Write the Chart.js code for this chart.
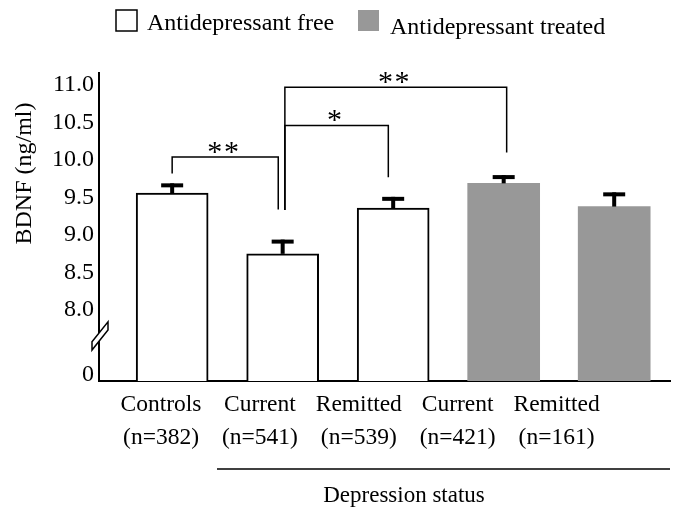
<!DOCTYPE html>
<html><head><meta charset="utf-8">
<script src="https://cdn.jsdelivr.net/npm/chart.js@4.4.1/dist/chart.umd.min.js"></script>
<style>html,body{margin:0;padding:0;background:#fff}canvas{display:block}</style>
</head><body>
<canvas id="c" width="677" height="514"></canvas>
<script>
// ---- data ----
const categories = ['Controls', 'Current', 'Remitted', 'Current', 'Remitted'];
const sampleSizes = ['(n=382)', '(n=541)', '(n=539)', '(n=421)', '(n=161)'];
const treatment = ['free', 'free', 'free', 'treated', 'treated'];
const meanBDNF = [9.56, 8.75, 9.36, 9.69, 9.38];
const semBDNF = [0.13, 0.19, 0.15, 0.11, 0.19];
const yTickValues = [8.0, 8.5, 9.0, 9.5, 10.0, 10.5, 11.0];
const legendLabels = ['Antidepressant free', 'Antidepressant treated'];
const comparisonLabels = ['**', '*', '**'];
const groupLabel = 'Depression status';
const yTitle = 'BDNF (ng/ml)';

// ---- layout / style config ----
const FONT = "'Liberation Serif', 'Times New Roman', serif";
const FREE_FILL = '#ffffff';
const TREATED_FILL = '#989898';
const Y_MIN = 7.055, Y_MAX = 11.161, ZERO_POS = 7.135, BREAK_POS = 7.655;
const brackets = [
  { x1: 0.0,  x2: 0.96,  top: 10.04, y1: 9.82,  y2: 9.34 },
  { x1: 1.02, x2: 1.956, top: 10.46, y1: 9.335, y2: 9.77 },
  { x1: 1.02, x2: 3.027, top: 10.97, y1: 9.335, y2: 10.10 }
];

const decorPlugin = {
  id: 'decor',
  afterDatasetsDraw(chart) {
    const ctx = chart.ctx, xs = chart.scales.x, ys = chart.scales.y;
    const meta = chart.getDatasetMeta(0);
    ctx.save();
    ctx.fillStyle = '#000';
    // error bars
    meta.data.forEach((bar, i) => {
      const yb = ys.getPixelForValue(meanBDNF[i]);
      const yt = ys.getPixelForValue(meanBDNF[i] + semBDNF[i]);
      ctx.fillRect(bar.x - 2, yt, 4, yb - yt);
      ctx.fillRect(bar.x - 11, yt, 22, 4);
    });
    // significance brackets
    ctx.strokeStyle = '#000';
    ctx.lineWidth = 1.5;
    brackets.forEach((b, k) => {
      const xa = xs.getPixelForValue(b.x1), xb = xs.getPixelForValue(b.x2);
      const yt = ys.getPixelForValue(b.top);
      ctx.beginPath();
      ctx.moveTo(xa, ys.getPixelForValue(b.y1));
      ctx.lineTo(xa, yt);
      ctx.lineTo(xb, yt);
      ctx.lineTo(xb, ys.getPixelForValue(b.y2));
      ctx.stroke();
      ctx.font = '30px ' + FONT;
      ctx.textAlign = 'center';
      ctx.textBaseline = 'alphabetic';
      const chars = comparisonLabels[k].split('');
      const mid = (xa + xb) / 2 - 2;
      chars.forEach((c, j) => {
        const off = (j - (chars.length - 1) / 2) * 16.7;
        ctx.fillText(c, mid + off, yt + 3.5);
      });
    });
    ctx.restore();
  },
  afterDraw(chart) {
    const ctx = chart.ctx, ys = chart.scales.y, area = chart.chartArea;
    ctx.save();
    // axis break
    const cx = area.left + 1, cy = ys.getPixelForValue(BREAK_POS);
    ctx.beginPath();
    ctx.moveTo(cx - 8, cy + 5.8);
    ctx.lineTo(cx + 8, cy - 14.2);
    ctx.lineTo(cx + 8, cy - 5.9);
    ctx.lineTo(cx - 8, cy + 14.1);
    ctx.closePath();
    ctx.fillStyle = '#fff';
    ctx.fill();
    ctx.strokeStyle = '#000';
    ctx.lineWidth = 1.5;
    ctx.stroke();
    // y title
    ctx.fillStyle = '#000';
    ctx.font = '24px ' + FONT;
    ctx.translate(25, 173.5);
    ctx.rotate(-Math.PI / 2);
    ctx.textAlign = 'center';
    ctx.textBaseline = 'middle';
    ctx.fillText(yTitle, 0, 0);
    ctx.restore();

    ctx.save();
    // group line + label
    ctx.strokeStyle = '#000';
    ctx.lineWidth = 1.5;
    ctx.beginPath();
    ctx.moveTo(217, 469);
    ctx.lineTo(area.right, 469);
    ctx.stroke();
    ctx.fillStyle = '#000';
    ctx.font = '23px ' + FONT;
    ctx.textAlign = 'center';
    ctx.textBaseline = 'middle';
    ctx.fillText(groupLabel, 404, 496);
    // legend
    ctx.lineWidth = 1.5;
    ctx.fillStyle = FREE_FILL;
    ctx.fillRect(116, 10, 21, 21);
    ctx.strokeRect(116, 10, 21, 21);
    ctx.fillStyle = TREATED_FILL;
    ctx.fillRect(358, 10, 21, 21);
    ctx.fillStyle = '#000';
    ctx.font = '24px ' + FONT;
    ctx.textAlign = 'left';
    ctx.textBaseline = 'alphabetic';
    ctx.fillText(legendLabels[0], 147, 30);
    ctx.fillText(legendLabels[1], 390, 34);
    ctx.restore();
  }
};

new Chart(document.getElementById('c'), {
  type: 'bar',
  data: {
    datasets: [{
      data: meanBDNF.map((v, i) => ({ x: i, y: v })),
      backgroundColor: treatment.map(t => t === 'free' ? FREE_FILL : TREATED_FILL),
      borderColor: treatment.map(t => t === 'free' ? '#000' : TREATED_FILL),
      borderWidth: treatment.map(t => t === 'free' ? 2 : 0),
      barThickness: 72,
      base: Y_MIN
    }]
  },
  options: {
    responsive: false,
    animation: false,
    devicePixelRatio: 1,
    layout: { padding: { top: 73, right: 7, bottom: 0, left: 0 } },
    plugins: { legend: { display: false }, tooltip: { enabled: false } },
    scales: {
      x: { type: 'linear', min: -0.662, max: 4.505, offset: false, display: false },
      xl: {
        type: 'linear', position: 'bottom', min: -0.627, max: 5.147, offset: false,
        grid: { display: false, drawTicks: false, offset: false },
        border: { display: true, color: '#000', width: 2 },
        ticks: {
          autoSkip: false, maxRotation: 0, minRotation: 0, padding: 7.5, color: '#000',
          font: { family: FONT, size: 23.5, lineHeight: 1.4 },
          callback: (v, i) => [categories[i], sampleSizes[i]]
        },
        afterBuildTicks: s => { s.ticks = categories.map((c, i) => ({ value: i })); },
        afterFit: s => { s.height = 133; }
      },
      y: {
        min: Y_MIN, max: Y_MAX,
        grid: { display: false, drawTicks: false },
        border: { display: true, color: '#000', width: 2 },
        ticks: {
          padding: 5, color: '#000',
          font: { family: FONT, size: 24 },
          callback: v => (v === ZERO_POS ? '0' : v.toFixed(1))
        },
        afterBuildTicks: s => { s.ticks = [{ value: ZERO_POS }].concat(yTickValues.map(v => ({ value: v }))); },
        afterFit: s => { s.width = 99; }
      }
    }
  },
  plugins: [decorPlugin]
});
</script>
</body></html>
